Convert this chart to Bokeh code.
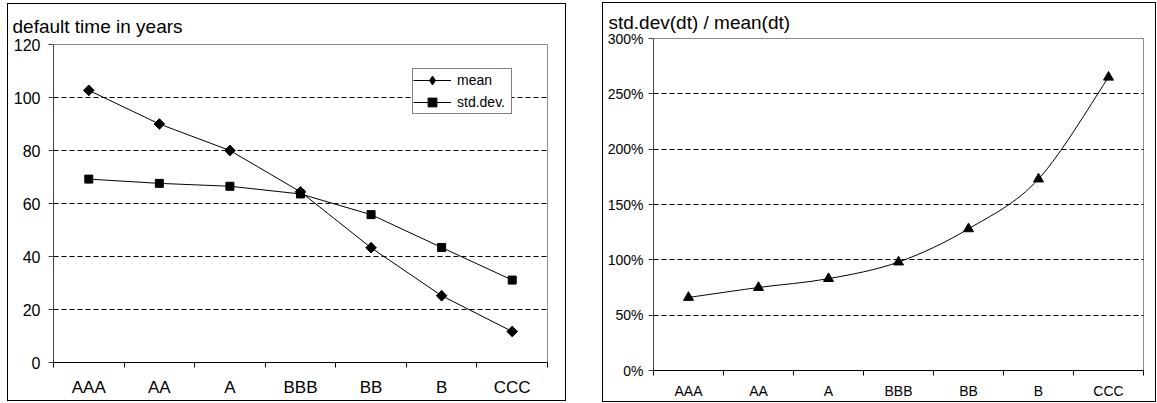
import math
from bokeh.plotting import figure
from bokeh.layouts import row, column
from bokeh.models import (FixedTicker, NumeralTickFormatter, Legend, LegendItem, Range1d)
from bokeh.embed import file_html
from bokeh.resources import INLINE

categories = ["AAA", "AA", "A", "BBB", "BB", "B", "CCC"]
mean_years = [102.7, 90.0, 80.0, 64.4, 43.3, 25.2, 11.7]
std_years = [69.2, 67.6, 66.5, 63.6, 55.8, 43.4, 31.1]
ratio = [0.66, 0.75, 0.83, 0.98, 1.28, 1.73, 2.65]
left_yticks = [0, 20, 40, 60, 80, 100, 120]
right_yticks = [0, 0.5, 1.0, 1.5, 2.0, 2.5, 3.0]

FONT = "Liberation Sans"
xs = [i + 0.5 for i in range(len(categories))]
bounds = list(range(len(categories) + 1))
overrides = {x: c for x, c in zip(xs, categories)}


def base_fig(fw, fh, title, ymax, mb):
    p = figure(frame_width=fw, frame_height=fh, output_backend="svg", toolbar_location=None,
               x_range=Range1d(0, len(categories)), y_range=Range1d(0, ymax),
               min_border_left=mb[0], min_border_right=mb[1],
               min_border_top=mb[2], min_border_bottom=mb[3])
    p.title.text = title
    p.title.text_font = FONT
    p.title.text_font_style = "normal"
    p.title.text_color = "black"
    p.title.text_font_size = "19px"
    p.title.align = "left"
    p.outline_line_color = "#8c8c8c"
    p.outline_line_width = 1
    p.background_fill_color = "white"
    p.border_fill_color = "white"
    p.xgrid.visible = False
    p.ygrid.grid_line_color = "black"
    p.ygrid.grid_line_dash = "5 3"
    p.ygrid.grid_line_width = 1
    xa = p.xaxis[0]
    xa.ticker = FixedTicker(ticks=xs, minor_ticks=bounds)
    xa.major_label_overrides = overrides
    xa.major_tick_line_color = None
    xa.major_tick_out = 0
    xa.major_tick_in = 0
    xa.minor_tick_out = 5
    xa.minor_tick_in = 0
    xa.minor_tick_line_color = "black"
    xa.axis_line_color = "black"
    xa.major_label_text_font = FONT
    xa.major_label_text_color = "black"
    ya = p.yaxis[0]
    ya.minor_tick_line_color = None
    ya.major_tick_in = 0
    ya.major_tick_out = 5
    ya.axis_line_color = "#444444"
    ya.major_tick_line_color = "#444444"
    ya.major_label_text_font = FONT
    ya.major_label_text_color = "black"
    return p


# ---- left chart ----
p1 = base_fig(494, 318, "default time in years", 120, (45, 18, 40, 38))
p1.title.offset = -41
p1.title.standoff = 16
p1.yaxis[0].ticker = FixedTicker(ticks=left_yticks)
p1.ygrid[0].ticker = FixedTicker(ticks=[20, 40, 60, 80, 100])
p1.yaxis[0].major_label_text_font_size = "16px"
p1.yaxis[0].major_label_standoff = 8
p1.xaxis[0].major_label_text_font_size = "17px"
p1.xaxis[0].major_label_standoff = 10

l1 = p1.line(xs, mean_years, line_color="black", line_width=1)
leg_d = p1.scatter(xs, mean_years, marker="diamond", size=10,
                   fill_color="black", line_color="black")
p1.scatter(xs, mean_years, marker="square", angle=math.pi / 4, size=7.5,
           fill_color="black", line_color="black")
l2 = p1.line(xs, std_years, line_color="black", line_width=1)
s2 = p1.scatter(xs, std_years, marker="square", size=8,
                fill_color="black", line_color="black")

legend = Legend(items=[LegendItem(label="mean", renderers=[l1, leg_d]),
                       LegendItem(label="std.dev.", renderers=[l2, s2])],
                location=(359, 248), orientation="vertical")
legend.label_text_font = FONT
legend.label_text_font_size = "14px"
legend.label_text_color = "black"
legend.glyph_width = 38
legend.glyph_height = 22
legend.label_height = 22
legend.label_width = 54
legend.label_standoff = 6
legend.padding = 0
legend.spacing = 0
legend.margin = 0
legend.border_line_color = "black"
legend.border_line_width = 1
legend.background_fill_alpha = 1
p1.add_layout(legend, "center")

# ---- right chart ----
p2 = base_fig(490, 332, "std.dev(dt) / mean(dt)", 3.0, (50, 12, 35, 30))
p2.title.offset = -45
p2.title.standoff = 11
p2.yaxis[0].ticker = FixedTicker(ticks=right_yticks)
p2.ygrid[0].ticker = FixedTicker(ticks=[0.5, 1.0, 1.5, 2.0, 2.5])
p2.yaxis[0].formatter = NumeralTickFormatter(format="0%")
p2.yaxis[0].major_label_text_font_size = "14px"
p2.yaxis[0].major_label_standoff = 5
p2.xaxis[0].major_label_text_font_size = "14px"
p2.xaxis[0].major_label_standoff = 7

# smoothed line (Catmull-Rom style control points, as in spreadsheet smoothing)
n = len(xs)
x0, y0, x1, y1, cx0, cy0, cx1, cy1 = [], [], [], [], [], [], [], []
for i in range(n - 1):
    pm = i - 1 if i > 0 else i
    pp = i + 2 if i + 2 < n else i + 1
    x0.append(xs[i]); y0.append(ratio[i])
    x1.append(xs[i + 1]); y1.append(ratio[i + 1])
    cx0.append(xs[i] + (xs[i + 1] - xs[pm]) / 6); cy0.append(ratio[i] + (ratio[i + 1] - ratio[pm]) / 6)
    cx1.append(xs[i + 1] - (xs[pp] - xs[i]) / 6); cy1.append(ratio[i + 1] - (ratio[pp] - ratio[i]) / 6)
p2.bezier(x0=x0, y0=y0, x1=x1, y1=y1, cx0=cx0, cy0=cy0, cx1=cx1, cy1=cy1,
          line_color="black", line_width=1)
p2.scatter(xs, ratio, marker="triangle", size=10, fill_color="black", line_color="black")

c1 = column(p1, styles={"border": "1px solid black"})
c2 = column(p2, styles={"border": "1px solid black"})
c1.margin = (3, 0, 0, 7)
c2.margin = (2, 0, 0, 36)
p1.margin = 0
p2.margin = 0
layout = row(c1, c2)
layout.margin = 0
layout.spacing = 0

open("out.html", "w").write(file_html(layout, INLINE))
